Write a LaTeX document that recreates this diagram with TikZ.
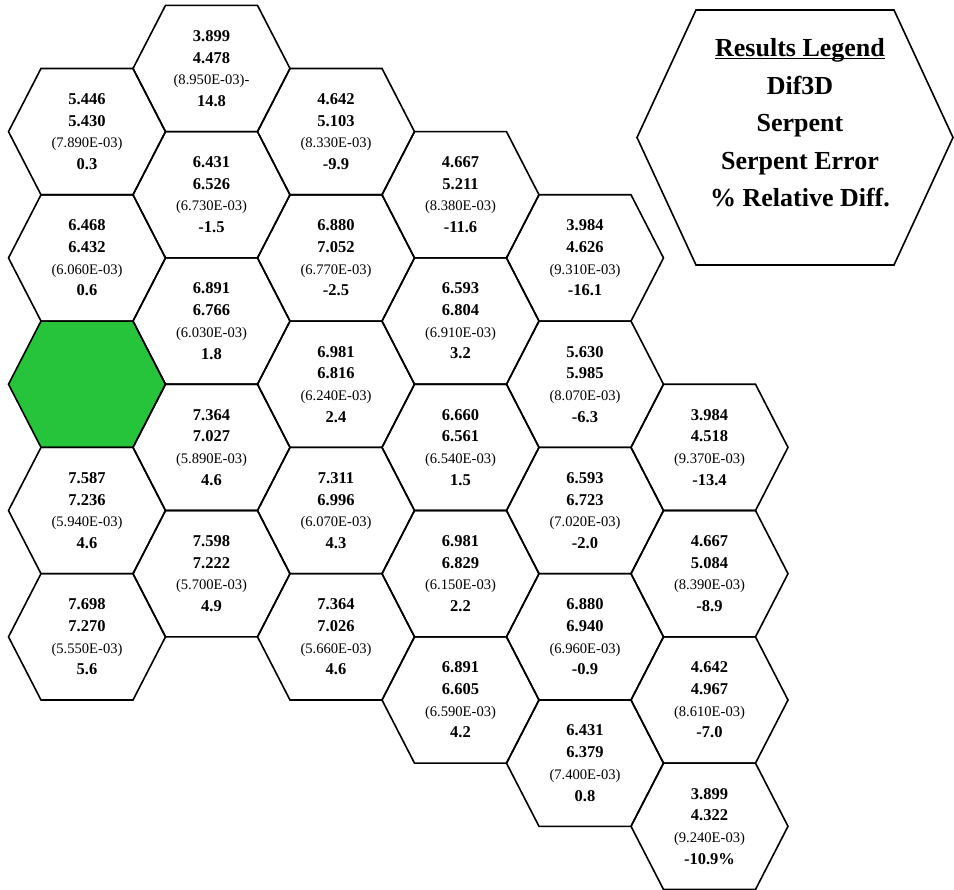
\documentclass[tikz,border=0pt]{standalone}
\usepackage{fontspec}
\setmainfont{Liberation Serif}
\definecolor{hexgreen}{RGB}{38,196,58}
\tikzset{
  hexline/.style={draw=black, line width=1.6pt, line join=miter},
  greenhex/.style={hexline, fill=hexgreen},
  celltext/.style={align=center, inner sep=0pt, font=\fontsize{16.5}{21.7}\selectfont\bfseries},
  legendtext/.style={align=center, inner sep=0pt, font=\fontsize{26}{37.5}\selectfont\bfseries},
}
\newcommand\hexshape[3]{%
  \draw[#1, shift={(#2,#3)}] (-78.5,0) -- (-46,-63.15) -- (46,-63.15) -- (78.5,0) -- (46,63.15) -- (-46,63.15) -- cycle;}
\newcommand\hexcell[7]{%
  \pgfmathsetmacro\hcx{87+124.5*#2}%
  \pgfmathsetmacro\hcy{5.35+63.15*#3}%
  \hexshape{hexline}{\hcx}{\hcy}%
  \node[celltext] (#1) at (\hcx,\hcy) {#4\\#5\\{\mdseries\fontsize{14.6}{21.7}\selectfont #6}\\#7};}
\begin{document}
\begin{tikzpicture}[x=1pt,y=-1pt]
\useasboundingbox (0,0) rectangle (954,890);
% green cell
\hexshape{greenhex}{87}{5.35+63.15*6}
\coordinate (green) at (87,{5.35+63.15*6});
% column 0
\hexcell{a0}{0}{2}{5.446}{5.430}{(7.890E-03)}{0.3}
\hexcell{a1}{0}{4}{6.468}{6.432}{(6.060E-03)}{0.6}
\hexcell{a3}{0}{8}{7.587}{7.236}{(5.940E-03)}{4.6}
\hexcell{a4}{0}{10}{7.698}{7.270}{(5.550E-03)}{5.6}
% column 1
\hexcell{b0}{1}{1}{3.899}{4.478}{(8.950E-03)-}{14.8}
\hexcell{b1}{1}{3}{6.431}{6.526}{(6.730E-03)}{-1.5}
\hexcell{b2}{1}{5}{6.891}{6.766}{(6.030E-03)}{1.8}
\hexcell{b3}{1}{7}{7.364}{7.027}{(5.890E-03)}{4.6}
\hexcell{b4}{1}{9}{7.598}{7.222}{(5.700E-03)}{4.9}
% column 2
\hexcell{c0}{2}{2}{4.642}{5.103}{(8.330E-03)}{-9.9}
\hexcell{c1}{2}{4}{6.880}{7.052}{(6.770E-03)}{-2.5}
\hexcell{c2}{2}{6}{6.981}{6.816}{(6.240E-03)}{2.4}
\hexcell{c3}{2}{8}{7.311}{6.996}{(6.070E-03)}{4.3}
\hexcell{c4}{2}{10}{7.364}{7.026}{(5.660E-03)}{4.6}
% column 3
\hexcell{d0}{3}{3}{4.667}{5.211}{(8.380E-03)}{-11.6}
\hexcell{d1}{3}{5}{6.593}{6.804}{(6.910E-03)}{3.2}
\hexcell{d2}{3}{7}{6.660}{6.561}{(6.540E-03)}{1.5}
\hexcell{d3}{3}{9}{6.981}{6.829}{(6.150E-03)}{2.2}
\hexcell{d4}{3}{11}{6.891}{6.605}{(6.590E-03)}{4.2}
% column 4
\hexcell{e0}{4}{4}{3.984}{4.626}{(9.310E-03)}{-16.1}
\hexcell{e1}{4}{6}{5.630}{5.985}{(8.070E-03)}{-6.3}
\hexcell{e2}{4}{8}{6.593}{6.723}{(7.020E-03)}{-2.0}
\hexcell{e3}{4}{10}{6.880}{6.940}{(6.960E-03)}{-0.9}
\hexcell{e4}{4}{12}{6.431}{6.379}{(7.400E-03)}{0.8}
% column 5
\hexcell{f0}{5}{7}{3.984}{4.518}{(9.370E-03)}{-13.4}
\hexcell{f1}{5}{9}{4.667}{5.084}{(8.390E-03)}{-8.9}
\hexcell{f2}{5}{11}{4.642}{4.967}{(8.610E-03)}{-7.0}
\hexcell{f3}{5}{13}{3.899}{4.322}{(9.240E-03)}{-10.9\%}
% legend
\draw[hexline, shift={(795,137.5)}] (-158,0) -- (-99,-127.5) -- (99,-127.5) -- (158,0) -- (99,127.5) -- (-99,127.5) -- cycle;
\node[legendtext] (legend) at (800,123) {\underline{\raisebox{0pt}[\height][0pt]{Results Legend}}\\Dif3D\\Serpent\\Serpent Error\\\% Relative Diff.};
\end{tikzpicture}
\end{document}
